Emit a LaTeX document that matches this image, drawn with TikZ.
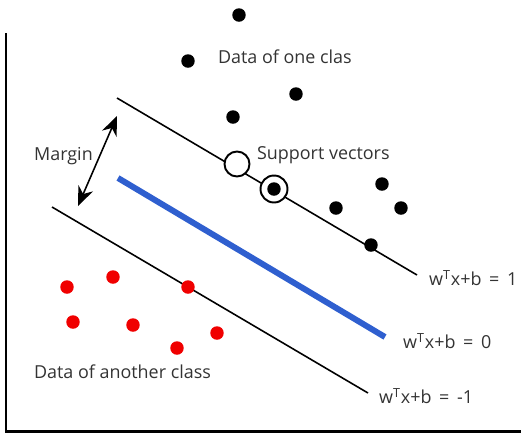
\documentclass[tikz,border=0pt]{standalone}
\usepackage{fontspec}
\setmainfont{Open Sans}
\usepackage{tikz}
\usetikzlibrary{arrows.meta,positioning}
\definecolor{svmblue}{HTML}{2F5FCF}
\definecolor{svmred}{HTML}{F00000}
\definecolor{svmtext}{HTML}{333333}

\begin{document}
\begin{tikzpicture}[
  x=0.02cm, y=-0.02cm,
  font=\fontsize{10.2}{12}\selectfont,
  pt/.style={circle, fill=black, inner sep=0pt, minimum size=0.27cm},
  rpt/.style={circle, fill=svmred, inner sep=0pt, minimum size=0.27cm},
  sv/.style={circle, draw=black, line width=1.1pt, fill=white, inner sep=0pt, minimum size=0.5cm},
  lab/.style={svmtext, inner sep=1pt, anchor=west},
  hyp/.style={black, line width=0.9pt},
]
\useasboundingbox (0,0) rectangle (525,434);
% axes
\coordinate (ax0) at (6,33);
\coordinate (ax1) at (6,431);
\coordinate (ax2) at (521,431);
\draw[line width=1.7pt] (ax0) -- (ax1) -- (ax2);
% hyperplanes
\coordinate (up0) at (117,98);
\coordinate (up1) at (417,275);
\coordinate (mid0) at (118,178);
\coordinate (mid1) at (385,337);
\coordinate (lo0) at (52,207);
\coordinate (lo1) at (368,393);
\draw[hyp] (up0) -- (up1);
\draw[hyp] (lo0) -- (lo1);
\draw[svmblue, line width=3.4pt] (mid0) -- (mid1);
% one class
\node[pt] (b1) at (239,15) {};
\node[pt] (b2) at (188,61) {};
\node[pt] (b3) at (296,94) {};
\node[pt] (b4) at (233,117) {};
\node[pt] (b5) at (382,184) {};
\node[pt] (b6) at (336,208) {};
\node[pt] (b7) at (401,208) {};
\node[pt] (b8) at (371,245) {};
\node[sv] (sv1) at (237,164) {};
\node[sv, minimum size=0.54cm] (sv2) at (274,189) {};
\node[pt] (b9) at (sv2) {};
% another class
\node[rpt] (r1) at (67,287) {};
\node[rpt] (r2) at (113,277) {};
\node[rpt] (r3) at (188,287) {};
\node[rpt] (r4) at (73,322) {};
\node[rpt] (r5) at (133,325) {};
\node[rpt] (r6) at (217,333) {};
\node[rpt] (r7) at (177,348) {};
% margin
\coordinate (m0) at (117,116);
\coordinate (m1) at (78,206);
\draw[{Stealth[length=11pt,width=9pt]}-{Stealth[length=11pt,width=9pt]}, line width=0.9pt] (m0) -- (m1);
\node[lab] (margin) at (32,156) {Margin};
% labels
\node[lab] (onecls) at (216,57) {Data of one clas};
\node[lab] (svlab) at (255,155) {Support vectors};
\node[lab] (anocls) at (32,372) {Data of another class};
\node[lab] (eq1) at (427,278) {w\textsuperscript{T}x+b \,=\, 1};
\node[lab] (eq0) at (401,341) {w\textsuperscript{T}x+b \,=\, 0};
\node[lab] (eqm) at (377,396) {w\textsuperscript{T}x+b \,=\, -1};
\end{tikzpicture}
\end{document}
